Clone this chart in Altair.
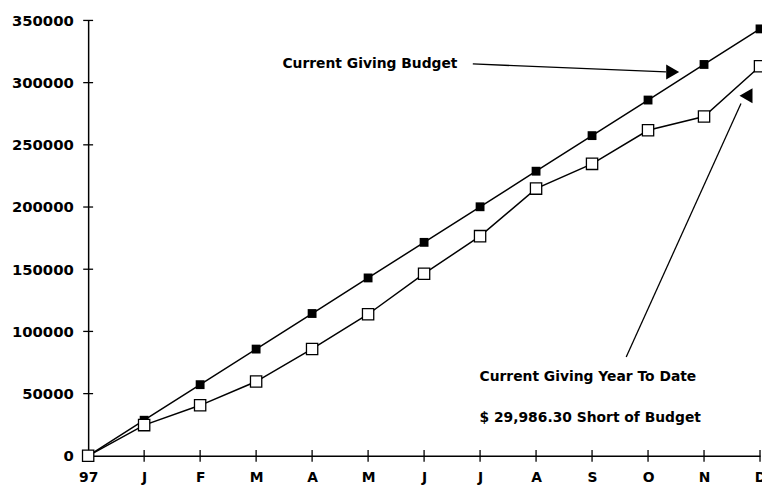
import altair as alt
import pandas as pd

# Data
months = ["97", "J", "F", "M", "A", "M", "J", "J", "A", "S", "O", "N", "D"]
budget = [0, 28600, 57200, 85800, 114400, 143000, 171600, 200200, 228800, 257400, 286000, 314600, 343200]
actual = [0, 24700, 40600, 59700, 85900, 113800, 146400, 176600, 214800, 234700, 261700, 272800, 313214]
y_ticks = [0, 50000, 100000, 150000, 200000, 250000, 300000, 350000]

# Annotations (in data coordinates: month index, dollars)
ann_text = ["Current Giving Budget", "Current Giving Year To Date", "$ 29,986.30 Short of Budget"]
ann_x = [3.47, 6.99, 6.99]
ann_y = [315000, 63600, 30200]
arrow1_x = [6.87, 10.32]
arrow1_y = [315000, 308600]
arrow2_x = [9.61, 11.66]
arrow2_y = [79500, 283200]
head_x = [10.44, 11.75]
head_y = [308600, 289500]
head_shape = ["triangle-right", "triangle-left"]

W, H = 679, 440
FONT = "DejaVu Sans"

idx = list(range(len(months)))
df = pd.DataFrame({"i": idx, "budget": budget, "actual": actual})
label_expr = "[" + ",".join("'" + m + "'" for m in months) + "][datum.value]"

xs = alt.Scale(domain=[0, 12], nice=False, zero=False)
ys = alt.Scale(domain=[0, 350000], nice=False)

x_axis = alt.Axis(values=idx, labelExpr=label_expr, ticks=False, grid=False,
                  domainColor="black", domainWidth=1.5, labelFont=FONT, labelFontSize=14,
                  labelFontWeight="bold", labelColor="black", labelPadding=15, title=None,
                  labelFlush=False)
y_axis = alt.Axis(values=y_ticks, format="d", ticks=False, grid=False,
                  domainColor="black", domainWidth=1.5, labelFont=FONT, labelFontSize=15,
                  labelFontWeight="bold", labelColor="black", labelPadding=15, title=None)

base = alt.Chart(df)

budget_line = base.mark_line(color="black", strokeWidth=1.5).encode(
    x=alt.X("i:Q", scale=xs, axis=x_axis), y=alt.Y("budget:Q", scale=ys, axis=y_axis))
budget_pts = base.mark_point(shape="square", size=80, filled=True, color="black",
                             opacity=1).encode(x=alt.X("i:Q", scale=xs), y=alt.Y("budget:Q", scale=ys))
actual_line = base.mark_line(color="black", strokeWidth=1.5).encode(
    x=alt.X("i:Q", scale=xs), y=alt.Y("actual:Q", scale=ys))
actual_pts = base.mark_point(shape="square", size=130, filled=True, fill="white",
                             stroke="black", strokeWidth=1.3, opacity=1).encode(
    x=alt.X("i:Q", scale=xs), y=alt.Y("actual:Q", scale=ys))

yt = alt.Chart(pd.DataFrame({"v": y_ticks})).mark_rule(color="black", strokeWidth=1.3).encode(
    y=alt.Y("v:Q", scale=ys), x=alt.value(-5), x2=alt.value(5))
xt = alt.Chart(pd.DataFrame({"i": idx[1:]})).mark_rule(color="black", strokeWidth=1.3).encode(
    x=alt.X("i:Q", scale=xs), y=alt.value(H - 6), y2=alt.value(H + 6))

texts = alt.Chart(pd.DataFrame({"t": ann_text, "x": ann_x, "y": ann_y})).mark_text(
    align="left", baseline="middle", font=FONT, fontSize=14, fontWeight="bold", color="black").encode(
    x=alt.X("x:Q", scale=xs), y=alt.Y("y:Q", scale=ys), text="t:N")

a1 = alt.Chart(pd.DataFrame({"x": arrow1_x, "y": arrow1_y})).mark_line(color="black", strokeWidth=1.3).encode(
    x=alt.X("x:Q", scale=xs), y=alt.Y("y:Q", scale=ys))
a2 = alt.Chart(pd.DataFrame({"x": arrow2_x, "y": arrow2_y})).mark_line(color="black", strokeWidth=1.3).encode(
    x=alt.X("x:Q", scale=xs), y=alt.Y("y:Q", scale=ys))
heads = alt.Chart(pd.DataFrame({"x": head_x, "y": head_y, "s": head_shape})).mark_point(
    filled=True, color="black", size=230, opacity=1).encode(
    x=alt.X("x:Q", scale=xs), y=alt.Y("y:Q", scale=ys),
    shape=alt.Shape("s:N", scale=None, legend=None))

chart = alt.layer(budget_line, actual_line, yt, xt, a1, a2, heads, texts, budget_pts, actual_pts).properties(
    width=W, height=H,
    autosize=alt.AutoSizeParams(type="none"),
    padding={"left": 81, "top": 10, "right": 2, "bottom": 34},
    background="white",
).configure_view(stroke=None, clip=False)

chart.save("out.html", embed_options={"renderer": "svg", "actions": False})
